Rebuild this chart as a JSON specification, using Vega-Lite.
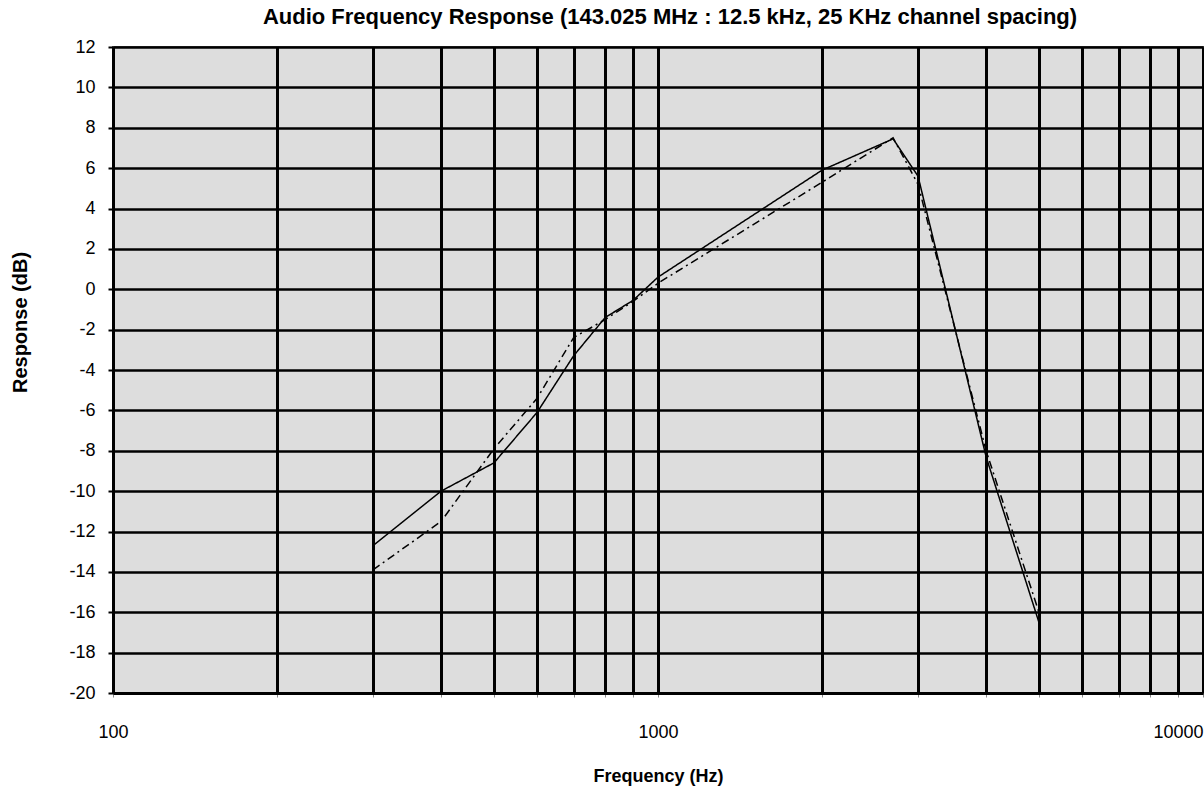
{
  "$schema": "https://vega.github.io/schema/vega-lite/v6.json",
  "autosize": {"type": "none"},
  "width": 1090,
  "height": 646,
  "padding": {"left": 113, "top": 47, "right": 1, "bottom": 107},
  "background": "white",
  "title": {
    "text": "Audio Frequency Response (143.025 MHz : 12.5 kHz, 25 KHz channel spacing)",
    "font": "Liberation Sans",
    "fontSize": 22,
    "fontWeight": "bold",
    "color": "black",
    "anchor": "middle",
    "offset": 9,
    "dx": 12
  },
  "config": {
    "view": {"fill": "#DDDDDD", "stroke": "#555555", "strokeWidth": 2}
  },
  "data": {
    "values": [
      {"f": 300, "dB": -12.7, "s": "A"},
      {"f": 400, "dB": -10.0, "s": "A"},
      {"f": 500, "dB": -8.6, "s": "A"},
      {"f": 600, "dB": -6.1, "s": "A"},
      {"f": 700, "dB": -3.3, "s": "A"},
      {"f": 800, "dB": -1.4, "s": "A"},
      {"f": 900, "dB": -0.55, "s": "A"},
      {"f": 1000, "dB": 0.6, "s": "A"},
      {"f": 2000, "dB": 5.9, "s": "A"},
      {"f": 2700, "dB": 7.45, "s": "A"},
      {"f": 3000, "dB": 5.6, "s": "A"},
      {"f": 4000, "dB": -8.3, "s": "A"},
      {"f": 5000, "dB": -16.5, "s": "A"},
      {"f": 300, "dB": -13.9, "s": "B"},
      {"f": 400, "dB": -11.5, "s": "B"},
      {"f": 500, "dB": -7.9, "s": "B"},
      {"f": 600, "dB": -5.4, "s": "B"},
      {"f": 700, "dB": -2.4, "s": "B"},
      {"f": 800, "dB": -1.5, "s": "B"},
      {"f": 900, "dB": -0.6, "s": "B"},
      {"f": 1000, "dB": 0.3, "s": "B"},
      {"f": 2000, "dB": 5.3, "s": "B"},
      {"f": 2700, "dB": 7.5, "s": "B"},
      {"f": 3000, "dB": 5.2, "s": "B"},
      {"f": 4000, "dB": -8.0, "s": "B"},
      {"f": 5000, "dB": -16.0, "s": "B"}
    ]
  },
  "mark": {"type": "line", "color": "black", "strokeWidth": 1.5},
  "encoding": {
    "x": {
      "field": "f",
      "type": "quantitative",
      "scale": {"type": "log", "domain": [100, 10000], "nice": false},
      "axis": {
        "values": [100, 200, 300, 400, 500, 600, 700, 800, 900, 1000, 2000, 3000, 4000, 5000, 6000, 7000, 8000, 9000, 10000],
        "labelExpr": "datum.value == 100 || datum.value == 1000 || datum.value == 10000 ? '' + datum.value : ''",
        "labelOverlap": false,
        "labelBound": false,
        "labelFlush": false,
        "labelAlign": {"condition": {"test": "datum.value >= 10000", "value": "right"}, "value": "center"},
        "grid": true,
        "gridColor": "black",
        "gridWidth": 3,
        "gridOpacity": 1,
        "domain": true,
        "domainColor": "black",
        "domainWidth": 3,
        "ticks": true,
        "tickSize": 4,
        "tickColor": "#888888",
        "tickWidth": 1,
        "labelFont": "Liberation Sans",
        "labelFontSize": 18,
        "labelColor": "black",
        "labelPadding": 26,
        "title": "Frequency (Hz)",
        "titleFont": "Liberation Sans",
        "titleFontSize": 18,
        "titleFontWeight": "bold",
        "titleColor": "black",
        "titlePadding": 26
      }
    },
    "y": {
      "field": "dB",
      "type": "quantitative",
      "scale": {"domain": [-20, 12], "nice": false},
      "axis": {
        "values": [-20, -18, -16, -14, -12, -10, -8, -6, -4, -2, 0, 2, 4, 6, 8, 10, 12],
        "labelExpr": "'' + datum.value",
        "grid": true,
        "gridColor": "black",
        "gridWidth": 2.5,
        "gridOpacity": 1,
        "domain": true,
        "domainColor": "black",
        "domainWidth": 3,
        "ticks": true,
        "tickSize": 5,
        "tickColor": "black",
        "tickWidth": 2,
        "labelFont": "Liberation Sans",
        "labelFontSize": 18,
        "labelColor": "black",
        "labelPadding": 13,
        "labelOverlap": false,
        "title": "Response (dB)",
        "titleFont": "Liberation Sans",
        "titleFontSize": 20,
        "titleFontWeight": "bold",
        "titleColor": "black",
        "titlePadding": 38,
        "titleY": 275
      }
    },
    "strokeDash": {
      "field": "s",
      "type": "nominal",
      "scale": {"domain": ["A", "B"], "range": [[1, 0], [8, 4, 2, 4]]},
      "legend": null
    }
  }
}
